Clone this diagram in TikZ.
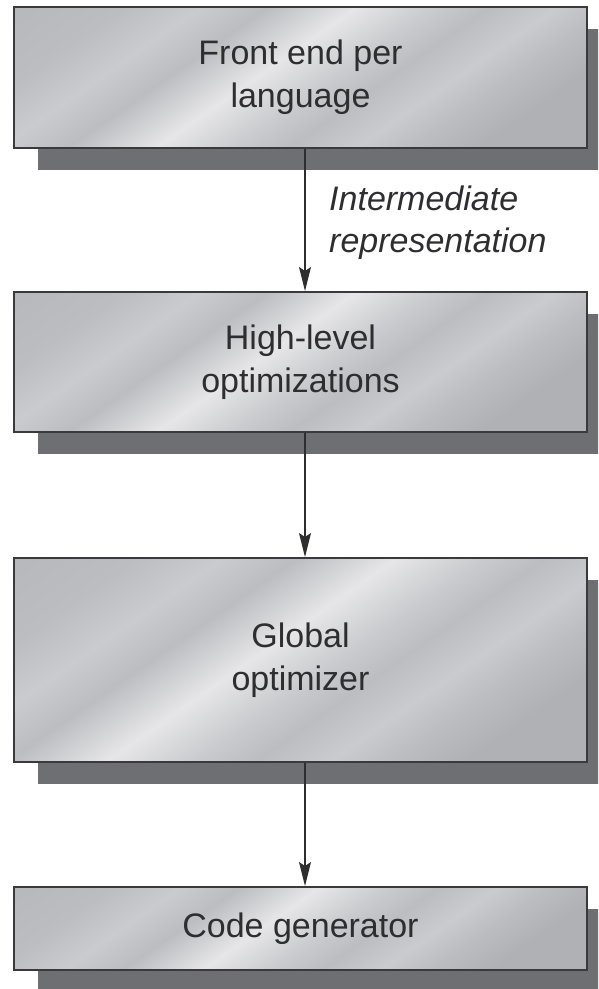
\documentclass[tikz,border=0pt]{standalone}
\usepackage{fontspec}
\setmainfont{Liberation Sans}
\usetikzlibrary{arrows.meta,shadows}

\definecolor{metalDark}{HTML}{B0B1B5}
\definecolor{metalMid}{HTML}{BCBDC1}
\definecolor{metalSoft}{HTML}{CACBCE}
\definecolor{metalLight}{HTML}{E6E6E8}
\definecolor{shadowc}{HTML}{6E6F73}
\definecolor{edgec}{HTML}{3A3A3C}
\definecolor{inkc}{HTML}{2E2E30}

% brushed-metal fill for the stage boxes
\pgfdeclarehorizontalshading{metal}{100bp}{%
  color(0bp)=(metalDark); color(25bp)=(metalMid);
  color(32bp)=(metalSoft); color(38bp)=(metalMid);
  color(46bp)=(metalLight); color(53bp)=(metalSoft);
  color(58bp)=(metalMid); color(64bp)=(metalSoft);
  color(69bp)=(metalMid); color(75bp)=(metalDark);
  color(100bp)=(metalDark)}

\tikzset{
  stage/.style={draw=edgec, line width=2pt, shading=metal, shading angle=-55,
    minimum width=573pt, text=inkc, align=center,
    font=\fontsize{34}{43}\selectfont,
    general shadow={shadow xshift=24pt, shadow yshift=-22pt, fill=shadowc, draw=none}},
  flow/.style={draw=inkc, line width=1.4pt,
    -{Stealth[length=24pt, width=12pt, inset=4pt]}},
  note/.style={text=inkc, align=left, inner sep=0pt,
    font=\fontsize{34}{42}\selectfont\itshape}
}

\begin{document}
\begin{tikzpicture}[x=1pt, y=-1pt]
  \useasboundingbox (0,0) rectangle (598,989);
  \clip (0,0) rectangle (598,989);

  \node[stage, minimum height=141pt] (fe) at (300.5,77.5) {Front end per\\language};
  \node[stage, minimum height=140pt] (hl) at (300.5,362) {High-level\\optimizations};
  \node[stage, minimum height=204pt] (go) at (300.5,660) {Global\\optimizer};
  \node[stage, minimum height=83pt]  (cg) at (300.5,928.5) {Code generator};

  \draw[flow] ([xshift=4.5pt]fe.south) -- ([xshift=4.5pt]hl.north);
  \draw[flow] ([xshift=4.5pt]hl.south) -- ([xshift=4.5pt]go.north);
  \draw[flow] ([xshift=4.5pt]go.south) -- ([xshift=4.5pt]cg.north);

  \node[note, anchor=west] (ir) at (329,223) {Intermediate\\representation};
\end{tikzpicture}
\end{document}
